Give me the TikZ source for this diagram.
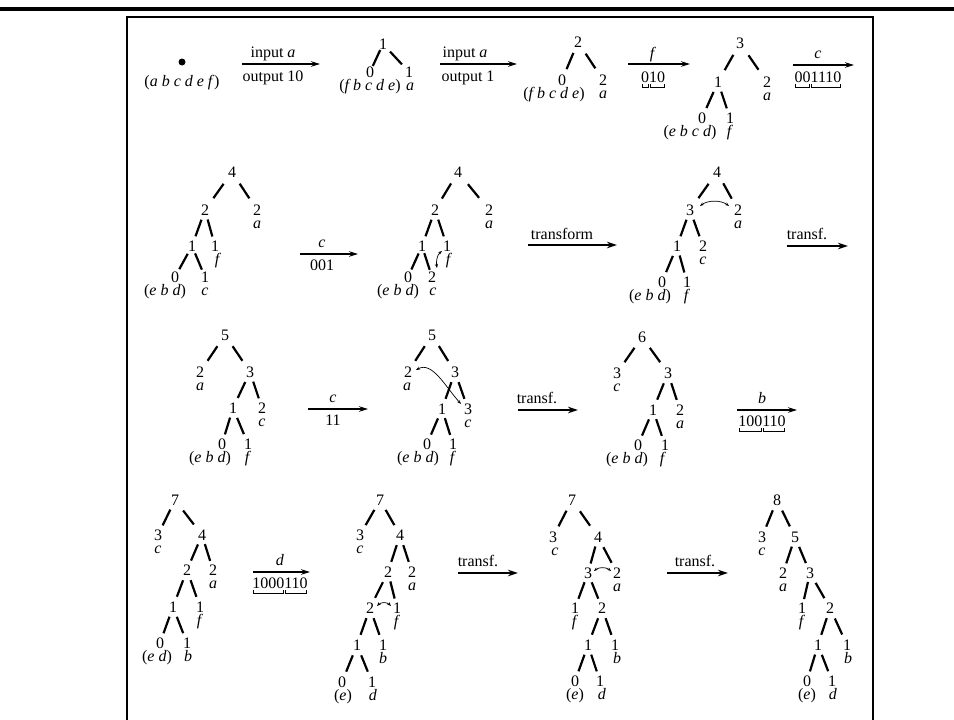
\documentclass[tikz,border=0pt]{standalone}
\usepackage{fontspec}
\setmainfont{Liberation Serif}
\usetikzlibrary{calc,arrows.meta}
\newcommand\fs{\fontsize{16}{19}\selectfont}
\newcommand\ubk[1]{\setbox0\hbox{#1}\hbox to \wd0{\rlap{\kern0.8pt\vrule height -1.5pt depth 5pt width .6pt\vrule height -4.4pt depth 5pt width \dimexpr\wd0-2.8pt\relax\vrule height -1.5pt depth 5pt width .6pt}\box0}}
\newcommand\tnd[4]{\node[tn] (#1) at (#2,#3) {#4};}
\newcommand\tlb[4]{\node[lb] (#1) at (#2,#3+18) {#4};}
\newcommand\tedge[2]{\coordinate (tm) at ($(#1)!0.5!(#2)$);\draw[edge] ($(tm)!8.8pt!(#1)$) -- ($(tm)!8.8pt!(#2)$);}
\newcommand\harrow[5]{\coordinate (#1s) at (#2,#4);\coordinate (#1e) at (#3,#4);\draw[#5] (#1s) -- (#1e);}
\newcommand\alab[4]{\node[al] (#1) at (#2,#3) {#4};}
\begin{document}
\begin{tikzpicture}[x=1pt,y=-1pt,
  tn/.style={font=\fs, inner sep=0pt},
  lb/.style={font=\fs, inner sep=0pt, anchor=base},
  al/.style={font=\fs, inner sep=0pt, anchor=base},
  edge/.style={line width=2.2pt},
  arr/.style={line width=1.3pt, -{Stealth[length=9pt,width=5.5pt]}},
  tarr/.style={line width=2.6pt, -{Stealth[length=10pt,width=6.5pt]}},
  swp/.style={line width=0.7pt, {Stealth[length=4pt,width=3pt]}-{Stealth[length=4pt,width=3pt]}},
  dotn/.style={circle, fill, inner sep=0pt, minimum size=7pt}]
\useasboundingbox (0,0) rectangle (954,720);
% frame
\draw[line width=4pt] (0,8.5) -- (954,8.5);
\draw[line width=1.5pt] (127,720) -- (127,17) -- (873,17) -- (873,720);

% ---------- row 1
\node[dotn] (n0) at (182,62) {};
\node[al] (n0l) at (182,86) {(\textit{a b c d e f\/})};
\harrow{a1}{242}{320}{64}{arr}
\alab{a1t}{273}{57.5}{input \textit{a}}
\alab{a1b}{273}{81}{output 10}
\tnd{p1}{383}{44}{1}\tnd{p1l}{370}{72}{0}\tnd{p1r}{409}{72}{1}
\tlb{p1la}{370}{72}{(\textit{f b c d e\/})}\tlb{p1ra}{410}{72}{\textit{a}}
\tedge{p1}{p1l}\tedge{p1}{p1r}
\harrow{a2}{440}{517}{64}{arr}
\alab{a2t}{465}{57.5}{input \textit{a}}
\alab{a2b}{468}{81}{output 1}
\tnd{p2}{578}{42}{2}\tnd{p2l}{562}{80}{0}\tnd{p2r}{603}{80}{2}
\tlb{p2la}{554}{80}{(\textit{f b c d e\/})}\tlb{p2ra}{603}{80}{\textit{a}}
\tedge{p2}{p2l}\tedge{p2}{p2r}
\harrow{a3}{628}{690}{64}{arr}
\alab{a3t}{653}{58.5}{\textit{f}}
\alab{a3b}{653}{82.5}{\ubk{0}\ubk{10}}
\tnd{p3}{740}{43}{3}\tnd{p3l}{718}{82}{1}\tnd{p3r}{767}{82}{2}
\tlb{p3ra}{767}{82}{\textit{a}}
\tnd{p3ll}{702}{118}{0}\tnd{p3lr}{730}{118}{1}
\tlb{p3lla}{690}{118}{(\textit{e b c d\/})}\tlb{p3lra}{730}{118}{\textit{f}}
\tedge{p3}{p3l}\tedge{p3}{p3r}\tedge{p3l}{p3ll}\tedge{p3l}{p3lr}
\harrow{a4}{793}{854}{65}{arr}
\alab{a4t}{818}{58.5}{\textit{c}}
\alab{a4b}{818}{82.5}{\ubk{00}\ubk{1110}}

% ---------- row 2
\tnd{A}{232}{172}{4}\tnd{Al}{205}{210}{2}\tnd{Ar}{257}{210}{2}\tlb{Ara}{257}{210}{\textit{a}}
\tnd{All}{192}{246}{1}\tnd{Alr}{215}{246}{1}\tlb{Alra}{218}{246}{\textit{f}}
\tnd{Alll}{175}{277}{0}\tnd{Allr}{205}{277}{1}
\tlb{Allla}{165}{277}{(\textit{e b d\/})}\tlb{Allra}{205}{277}{\textit{c}}
\tedge{A}{Al}\tedge{A}{Ar}\tedge{Al}{All}\tedge{Al}{Alr}\tedge{All}{Alll}\tedge{All}{Allr}
\harrow{a5}{300}{358}{254}{arr}
\alab{a5t}{322}{247.5}{\textit{c}}
\alab{a5b}{322}{270.5}{001}
\tnd{B}{458}{172}{4}\tnd{Bl}{435}{210}{2}\tnd{Br}{489}{210}{2}\tlb{Bra}{489}{210}{\textit{a}}
\tnd{Bll}{422}{246}{1}\tnd{Blr}{447}{246}{1}\tlb{Blra}{449}{246}{\textit{f}}
\tnd{Blll}{408}{277}{0}\tnd{Bllr}{432}{277}{2}
\tlb{Bllla}{398}{277}{(\textit{e b d\/})}\tlb{Bllra}{433}{277}{\textit{c}}
\tedge{B}{Bl}\tedge{B}{Br}\tedge{Bl}{Bll}\tedge{Bl}{Blr}\tedge{Bll}{Blll}\tedge{Bll}{Bllr}
\coordinate (cB1) at (442,251);\coordinate (cB2) at (437,268);
\draw[swp] (cB1) .. controls (437,255) and (436,262) .. (cB2);
\harrow{a6}{528}{617}{245}{tarr}
\alab{a6t}{562}{239}{transform}
\tnd{C}{717}{172}{4}\tnd{Cl}{690}{210}{3}\tnd{Cr}{738}{210}{2}\tlb{Cra}{738}{210}{\textit{a}}
\tnd{Cll}{677}{246}{1}\tnd{Clr}{703}{246}{2}\tlb{Clra}{703}{246}{\textit{c}}
\tnd{Clll}{662}{282}{0}\tnd{Cllr}{687}{282}{1}
\tlb{Cllla}{650}{282}{(\textit{e b d\/})}\tlb{Cllra}{687}{282}{\textit{f}}
\tedge{C}{Cl}\tedge{C}{Cr}\tedge{Cl}{Cll}\tedge{Cl}{Clr}\tedge{Cll}{Clll}\tedge{Cll}{Cllr}
\coordinate (cC1) at (700,206);\coordinate (cC2) at (729,206);
\draw[swp] (cC1) .. controls (708,200) and (721,200) .. (cC2);
\harrow{a7}{787}{848}{246}{tarr}
\alab{a7t}{807}{239.5}{transf.}

% ---------- row 3
\tnd{D}{225}{335}{5}\tnd{Dl}{200}{372}{2}\tlb{Dla}{200}{372}{\textit{a}}\tnd{Dr}{250}{372}{3}
\tnd{Drl}{233}{408}{1}\tnd{Drr}{262}{408}{2}\tlb{Drra}{262}{408}{\textit{c}}
\tnd{Drll}{222}{444}{0}\tnd{Drlr}{248}{444}{1}
\tlb{Drlla}{210}{444}{(\textit{e b d\/})}\tlb{Drlra}{248}{444}{\textit{f}}
\tedge{D}{Dl}\tedge{D}{Dr}\tedge{Dr}{Drl}\tedge{Dr}{Drr}\tedge{Drl}{Drll}\tedge{Drl}{Drlr}
\harrow{a8}{308}{368}{409}{arr}
\alab{a8t}{333}{402.5}{\textit{c}}
\alab{a8b}{333}{425.5}{11}
\tnd{E}{432}{335}{5}\tnd{El}{408}{372}{2}\tlb{Ela}{407}{372}{\textit{a}}\tnd{Er}{455}{372}{3}
\tnd{Erl}{442}{409}{1}\tnd{Err}{468}{409}{3}\tlb{Erra}{468}{409}{\textit{c}}
\tnd{Erll}{427}{444}{0}\tnd{Erlr}{453}{444}{1}
\tlb{Erlla}{418}{444}{(\textit{e b d\/})}\tlb{Erlra}{453}{444}{\textit{f}}
\tedge{E}{El}\tedge{E}{Er}\tedge{Er}{Erl}\tedge{Er}{Err}\tedge{Erl}{Erll}\tedge{Erl}{Erlr}
\coordinate (cE1) at (416,370);\coordinate (cE2) at (461,404);
\draw[swp] (cE1) .. controls (432,361) and (445,386) .. (cE2);
\harrow{a9}{518}{578}{410}{tarr}
\alab{a9t}{537}{403.5}{transf.}
\tnd{F}{642}{337}{6}\tnd{Fl}{617}{373}{3}\tlb{Fla}{617}{373}{\textit{c}}\tnd{Fr}{668}{373}{3}
\tnd{Frl}{653}{410}{1}\tnd{Frr}{680}{410}{2}\tlb{Frra}{680}{410}{\textit{a}}
\tnd{Frll}{638}{445}{0}\tnd{Frlr}{665}{445}{1}
\tlb{Frlla}{627}{445}{(\textit{e b d\/})}\tlb{Frlra}{663}{445}{\textit{f}}
\tedge{F}{Fl}\tedge{F}{Fr}\tedge{Fr}{Frl}\tedge{Fr}{Frr}\tedge{Frl}{Frll}\tedge{Frl}{Frlr}
\harrow{a10}{737}{797}{410}{arr}
\alab{a10t}{762}{403.5}{\textit{b}}
\alab{a10b}{762}{426.5}{\ubk{100}\ubk{110}}

% ---------- row 4
\tnd{G}{175}{500}{7}\tnd{Gl}{158}{535}{3}\tlb{Gla}{158}{535}{\textit{c}}\tnd{Gr}{202}{535}{4}
\tnd{Grl}{187}{570}{2}\tnd{Grr}{213}{570}{2}\tlb{Grra}{213}{570}{\textit{a}}
\tnd{Grll}{173}{607}{1}\tnd{Grlr}{200}{607}{1}\tlb{Grlra}{200}{607}{\textit{f}}
\tnd{Grlll}{160}{643}{0}\tnd{Grllr}{187}{643}{1}
\tlb{Grllla}{157}{643}{(\textit{e d\/})}\tlb{Grllra}{188}{643}{\textit{b}}
\tedge{G}{Gl}\tedge{G}{Gr}\tedge{Gr}{Grl}\tedge{Gr}{Grr}\tedge{Grl}{Grll}\tedge{Grl}{Grlr}\tedge{Grll}{Grlll}\tedge{Grll}{Grllr}
\harrow{a11}{253}{310}{572}{arr}
\alab{a11t}{280}{565.5}{\textit{d}}
\alab{a11b}{280}{588.5}{\ubk{1000}\ubk{110}}
\tnd{H}{380}{500}{7}\tnd{Hl}{360}{535}{3}\tlb{Hla}{360}{535}{\textit{c}}\tnd{Hr}{400}{535}{4}
\tnd{Hrl}{388}{572}{2}\tnd{Hrr}{412}{572}{2}\tlb{Hrra}{412}{572}{\textit{a}}
\tnd{Hrll}{370}{608}{2}\tnd{Hrlr}{397}{608}{1}\tlb{Hrlra}{397}{608}{\textit{f}}
\tnd{Hrlll}{357}{645}{1}\tnd{Hrllr}{383}{645}{1}\tlb{Hrllra}{383}{645}{\textit{b}}
\tnd{Hrllll}{342}{682}{0}\tnd{Hrlllr}{372}{682}{1}
\tlb{Hrlllla}{343}{682}{(\textit{e\/})}\tlb{Hrlllra}{373}{682}{\textit{d}}
\tedge{H}{Hl}\tedge{H}{Hr}\tedge{Hr}{Hrl}\tedge{Hr}{Hrr}\tedge{Hrl}{Hrll}\tedge{Hrl}{Hrlr}
\tedge{Hrll}{Hrlll}\tedge{Hrll}{Hrllr}\tedge{Hrlll}{Hrllll}\tedge{Hrlll}{Hrlllr}
\coordinate (cH1) at (377,606);\coordinate (cH2) at (391,606);
\draw[swp] (cH1) .. controls (381,602) and (387,602) .. (cH2);
\harrow{a12}{458}{518}{573}{tarr}
\alab{a12t}{478}{566.5}{transf.}
\tnd{I}{572}{500}{7}\tnd{Il}{553}{537}{3}\tlb{Ila}{555}{537}{\textit{c}}\tnd{Ir}{598}{537}{4}
\tnd{Irl}{588}{573}{3}\tnd{Irr}{617}{573}{2}\tlb{Irra}{617}{573}{\textit{a}}
\tnd{Irll}{575}{608}{1}\tlb{Irlla}{575}{608}{\textit{f}}\tnd{Irlr}{602}{608}{2}
\tnd{Irlrl}{588}{645}{1}\tnd{Irlrr}{615}{645}{1}\tlb{Irlrra}{617}{645}{\textit{b}}
\tnd{Irlrll}{575}{681}{0}\tnd{Irlrlr}{600}{681}{1}
\tlb{Irlrlla}{575}{681}{(\textit{e\/})}\tlb{Irlrlra}{602}{681}{\textit{d}}
\tedge{I}{Il}\tedge{I}{Ir}\tedge{Ir}{Irl}\tedge{Ir}{Irr}\tedge{Irl}{Irll}\tedge{Irl}{Irlr}
\tedge{Irlr}{Irlrl}\tedge{Irlr}{Irlrr}\tedge{Irlrl}{Irlrll}\tedge{Irlrl}{Irlrlr}
\coordinate (cI1) at (594,571);\coordinate (cI2) at (611,571);
\draw[swp] (cI1) .. controls (599,567) and (606,567) .. (cI2);
\harrow{a13}{667}{728}{573}{tarr}
\alab{a13t}{695}{566.5}{transf.}
\tnd{J}{777}{500}{8}\tnd{Jl}{762}{537}{3}\tlb{Jla}{762}{537}{\textit{c}}\tnd{Jr}{795}{537}{5}
\tnd{Jrl}{783}{573}{2}\tlb{Jrla}{783}{573}{\textit{a}}\tnd{Jrr}{810}{573}{3}
\tnd{Jrrl}{802}{608}{1}\tlb{Jrrla}{802}{608}{\textit{f}}\tnd{Jrrr}{830}{608}{2}
\tnd{Jrrrl}{818}{645}{1}\tnd{Jrrrr}{847}{645}{1}\tlb{Jrrrra}{848}{645}{\textit{b}}
\tnd{Jrrrll}{807}{681}{0}\tnd{Jrrrlr}{832}{681}{1}
\tlb{Jrrrlla}{807}{681}{(\textit{e\/})}\tlb{Jrrrlra}{833}{681}{\textit{d}}
\tedge{J}{Jl}\tedge{J}{Jr}\tedge{Jr}{Jrl}\tedge{Jr}{Jrr}\tedge{Jrr}{Jrrl}\tedge{Jrr}{Jrrr}
\tedge{Jrrr}{Jrrrl}\tedge{Jrrr}{Jrrrr}\tedge{Jrrrl}{Jrrrll}\tedge{Jrrrl}{Jrrrlr}
\end{tikzpicture}
\end{document}
